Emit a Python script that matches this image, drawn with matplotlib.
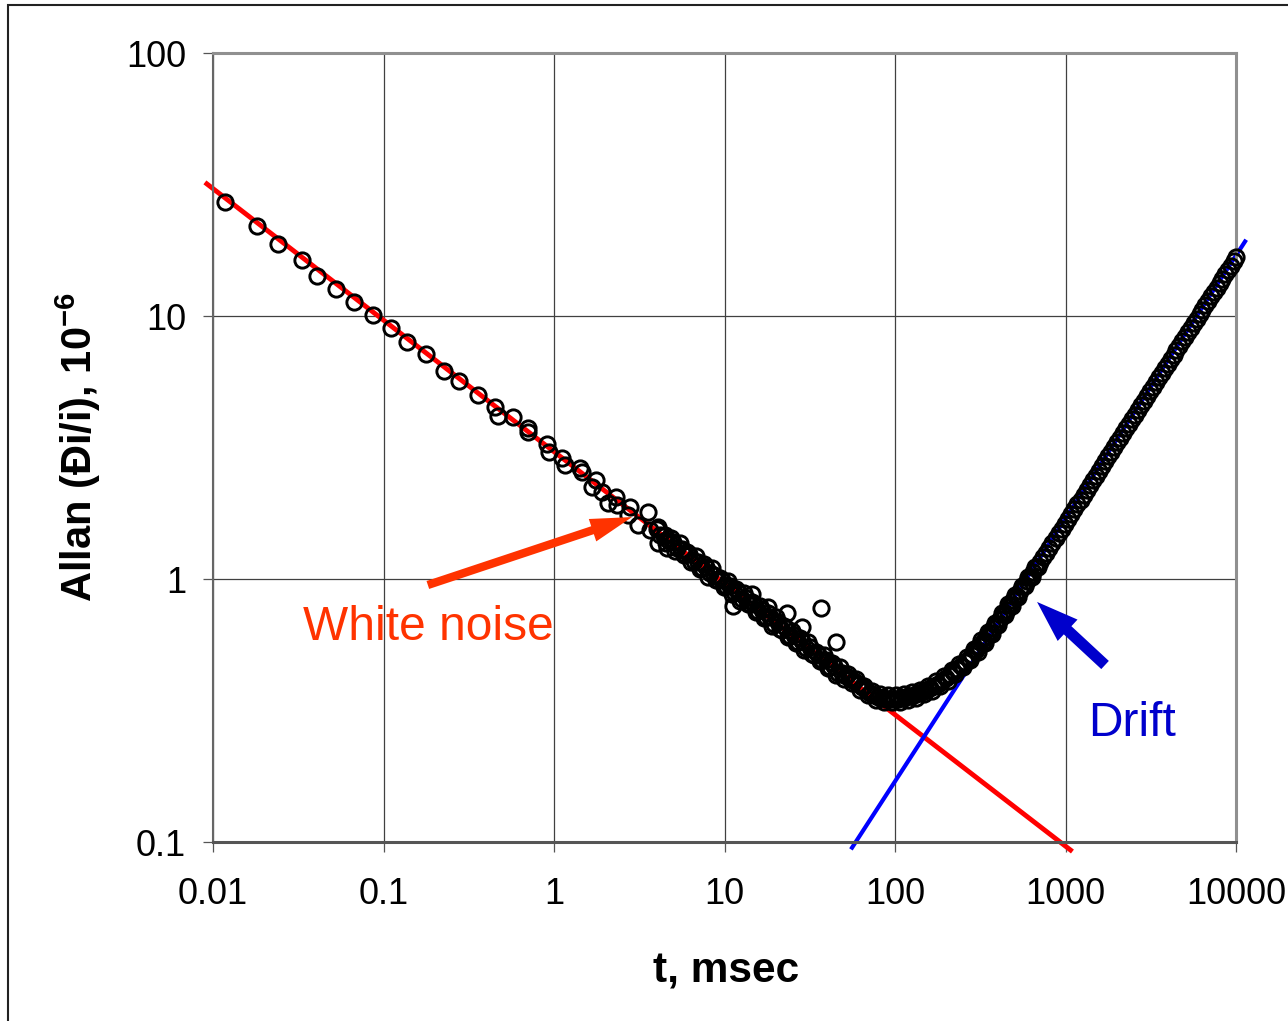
import numpy as np
import matplotlib
matplotlib.use("Agg")
import matplotlib.pyplot as plt
from matplotlib.patches import Rectangle
from matplotlib.ticker import FixedLocator, FixedFormatter, NullLocator

plt.rcParams['font.family'] = ['Liberation Sans', 'DejaVu Sans']
plt.rcParams['mathtext.fontset'] = 'custom'
plt.rcParams['mathtext.rm'] = 'Liberation Sans'
plt.rcParams['mathtext.bf'] = 'Liberation Sans:bold'

# sparse points at short averaging times (msec, 1e-6)
tau_sparse = [0.0118, 0.0181, 0.0241, 0.0333, 0.0407, 0.0527, 0.0671, 0.0868, 0.111,
              0.137, 0.178, 0.226, 0.277, 0.358, 0.451, 0.470, 0.575, 0.704, 0.704,
              0.909, 0.93, 1.114, 1.16, 1.42, 1.46, 1.76, 1.67, 1.91, 2.31, 2.07,
              2.34, 2.79, 2.72, 3.56, 3.11, 3.66, 4.48, 4.07, 4.6]
allan_sparse = [27.1, 22.0, 18.8, 16.3, 14.2, 12.7, 11.3, 10.1, 9.0,
                7.96, 7.17, 6.18, 5.66, 5.01, 4.51, 4.17, 4.13, 3.75, 3.62,
                3.26, 3.04, 2.88, 2.71, 2.64, 2.55, 2.38, 2.24, 2.14, 2.05, 1.95,
                1.91, 1.88, 1.75, 1.80, 1.60, 1.53, 1.47, 1.37, 1.31]

# dense points
tau_dense = [4.0, 4.2, 4.4, 4.7, 5.0, 5.3, 5.6, 5.9, 6.2, 6.6, 7.0, 7.4, 7.8, 8.2, 8.7,
             9.2, 9.7, 10.2, 10.8, 11.4, 12.0, 12.7, 13.4, 14.1, 14.9, 15.7, 16.6, 17.5,
             18.5, 19.5, 20.6, 21.7, 22.9, 24.2, 25.5, 27, 28.5, 30, 31.7, 33.5, 35.3,
             37.3, 39.4, 41.6, 43.9, 46.3, 48.9, 51.6, 54.5, 57.5, 60.7, 64, 67.6, 71.3,
             75.3, 79.5, 84, 88.6, 93.5, 98.7, 104, 110, 116, 122.5, 129, 136, 144, 152,
             160, 169, 178, 188, 198, 209, 220, 232, 244, 257, 270, 284, 298, 313, 328,
             344, 360, 377, 395, 413, 432, 452, 473, 495, 518, 542, 567, 593, 620, 648,
             677, 707, 738, 770, 803, 838, 874, 912, 951, 992, 1035, 1080, 1125, 1175,
             1225, 1280, 1335, 1390, 1450, 1510, 1575, 1640, 1710, 1780, 1855, 1930,
             2010, 2095, 2180, 2270, 2365, 2460, 2560, 2665, 2775, 2890, 3010, 3130,
             3260, 3390, 3530, 3670, 3820, 3975, 4135, 4300, 4475, 4655, 4840, 5035,
             5235, 5445, 5660, 5885, 6120, 6360, 6610, 6870, 7140, 7420, 7710, 8010,
             8320, 8640, 8975, 9320, 9680, 10050]
allan_dense = [1.55, 1.47, 1.46, 1.39, 1.38, 1.31, 1.30, 1.24, 1.24, 1.17, 1.16, 1.10, 1.11,
               1.05, 1.04, 0.99, 0.99, 0.94, 0.94, 0.89, 0.89, 0.84, 0.85, 0.80, 0.80,
               0.755, 0.76, 0.715, 0.72, 0.675, 0.685, 0.64, 0.65, 0.605, 0.615, 0.575,
               0.58, 0.545, 0.55, 0.515, 0.52, 0.49, 0.49, 0.462, 0.466, 0.44, 0.44, 0.428,
               0.42, 0.41, 0.398, 0.387, 0.377, 0.369, 0.362, 0.357, 0.354, 0.351, 0.35,
               0.35, 0.351, 0.353, 0.356, 0.359, 0.363, 0.367, 0.372, 0.378, 0.385, 0.392,
               0.40, 0.409, 0.419, 0.43, 0.442, 0.455, 0.468, 0.483, 0.498, 0.515, 0.535,
               0.556, 0.578, 0.60, 0.625, 0.65, 0.677, 0.705, 0.735, 0.765, 0.797, 0.83,
               0.865, 0.90, 0.94, 0.98, 1.02, 1.065, 1.11, 1.16, 1.21, 1.26, 1.315, 1.37,
               1.43, 1.49, 1.555, 1.62, 1.69, 1.765, 1.84, 1.92, 2.0, 2.09, 2.18, 2.27,
               2.37, 2.47, 2.57, 2.69, 2.81, 2.93, 3.05, 3.18, 3.31, 3.45, 3.59, 3.74,
               3.9, 4.06, 4.22, 4.4, 4.58, 4.77, 4.97, 5.17, 5.39, 5.6, 5.84, 6.07, 6.32,
               6.58, 6.84, 7.12, 7.41, 7.71, 8.02, 8.35, 8.68, 9.03, 9.39, 9.77, 10.16,
               10.56, 10.98, 11.42, 11.87, 12.34, 12.83, 13.33, 13.85, 14.39, 14.95,
               15.53, 16.14, 16.76]

# second interleaved set of dense points (noisier part of the curve)
tau_dense2 = [4.1, 4.55, 4.85, 5.15, 5.45, 5.75, 6.05, 6.4, 6.8, 7.2, 7.6, 8.0, 8.45, 8.95,
              9.45, 9.95, 10.5, 11.1, 11.7, 12.35, 13.05, 13.75, 14.5, 15.3, 16.15, 17.05,
              18.0, 19.0, 20.05, 21.15, 22.3, 23.55, 24.85, 26.25, 27.75, 29.25, 30.85,
              32.6, 34.4, 36.3, 38.35, 40.5, 42.75, 45.1, 47.6, 50.2, 53, 56, 59, 62.3,
              65.8, 69.4, 73.3, 77.4, 81.7, 86.3, 91, 96, 101.3, 107, 113, 119, 125.7,
              132.5, 140, 148, 156, 164.5, 173.5, 183, 193, 203.5, 214.5, 226, 238, 250.5,
              263.5, 277, 291, 305.5, 320.5, 336, 352, 368.5, 386, 404, 422.5, 442, 462.5,
              484, 506.5, 530, 554.5, 580, 606.5, 634, 662.5, 692]
allan_dense2 = [1.57, 1.37, 1.43, 1.28, 1.37, 1.23, 1.265, 1.16, 1.22, 1.09, 1.14, 1.02, 1.10,
                0.99, 1.01, 0.93, 0.98, 0.88, 0.92, 0.825, 0.886, 0.80, 0.817, 0.75, 0.79,
                0.71, 0.74, 0.665, 0.715, 0.643, 0.66, 0.603, 0.636, 0.571, 0.596, 0.536,
                0.576, 0.518, 0.53, 0.486, 0.512, 0.46, 0.48, 0.431, 0.464, 0.417, 0.437,
                0.403, 0.416, 0.380, 0.393, 0.362, 0.376, 0.348, 0.366, 0.341, 0.361, 0.340,
                0.361, 0.341, 0.365, 0.346, 0.372, 0.354, 0.380, 0.364, 0.392, 0.376, 0.408,
                0.392, 0.426, 0.411, 0.449, 0.435, 0.475, 0.461, 0.505, 0.491, 0.541, 0.529,
                0.584, 0.571, 0.630, 0.618, 0.683, 0.670, 0.742, 0.728, 0.804, 0.789, 0.873,
                0.856, 0.938, 0.941, 1.02, 1.02, 1.11, 1.11]

# scattered outliers
tau_out = [14.5, 11.2, 18.0, 23.3, 28.5, 36.8, 45.1]
allan_out = [0.877, 0.789, 0.783, 0.743, 0.657, 0.776, 0.576]

# fitted lines (end points)
white_tau = [0.0092, 1070]
white_allan = [31.8, 0.0932]
drift_tau = [56, 11300]
drift_allan = [0.0952, 19.2]

x_ticks = [0.01, 0.1, 1, 10, 100, 1000, 10000]
x_labels = ["0.01", "0.1", "1", "10", "100", "1000", "10000"]
y_ticks = [0.1, 1, 10, 100]
y_labels = ["0.1", "1", "10", "100"]

W, H = 1288, 1021
fig = plt.figure(figsize=(W / 100, H / 100), dpi=100)
ax = fig.add_axes([213 / W, 1 - 842 / H, (1236 - 213) / W, (842 - 53) / H])

ax.set_xscale('log')
ax.set_yscale('log')
ax.set_xlim(0.01, 10000)
ax.set_ylim(0.1, 100)

ax.plot(white_tau, white_allan, color='#ff0000', lw=3.5, clip_on=False, zorder=2)
ax.plot(drift_tau, drift_allan, color='#0000ff', lw=3.0, clip_on=False, zorder=2)

tau_all = tau_sparse + tau_dense + tau_dense2 + tau_out
allan_all = allan_sparse + allan_dense + allan_dense2 + allan_out
ax.plot(tau_all, allan_all, 'o', ms=11, mfc='none', mec='black', mew=2.1,
        clip_on=False, zorder=3)

ax.xaxis.set_major_locator(FixedLocator(x_ticks))
ax.xaxis.set_major_formatter(FixedFormatter(x_labels))
ax.yaxis.set_major_locator(FixedLocator(y_ticks))
ax.yaxis.set_major_formatter(FixedFormatter(y_labels))
ax.xaxis.set_minor_locator(NullLocator())
ax.yaxis.set_minor_locator(NullLocator())
ax.tick_params(axis='both', which='major', direction='out', length=7.5, width=0.9,
               color='#555555', labelsize=26)
ax.tick_params(axis='x', pad=18)
ax.tick_params(axis='y', pad=12)

ax.grid(True, which='major', color='#404040', lw=0.9)
ax.set_axisbelow(True)
ax.spines['left'].set_color('#666666')
ax.spines['left'].set_linewidth(1.5)
ax.spines['bottom'].set_color('#555555')
ax.spines['bottom'].set_linewidth(2.2)
for s in ['top', 'right']:
    ax.spines[s].set_color('#909090')
    ax.spines[s].set_linewidth(2.2)

# annotations
ax.annotate('', xy=(2.87, 1.72), xytext=(0.182, 0.949),
            arrowprops=dict(arrowstyle='simple,head_length=30,head_width=17,tail_width=6',
                            mutation_scale=1, color='#ff3300', lw=0, shrinkA=0, shrinkB=0))
ax.text(0.0337, 0.652, 'White noise', color='#ff3300', fontsize=34.5, ha='left', va='center')

ax.annotate('', xy=(681, 0.818), xytext=(1706, 0.471),
            arrowprops=dict(arrowstyle='simple,head_length=30,head_width=21,tail_width=8',
                            mutation_scale=1, color='#0000cc', lw=0, shrinkA=0, shrinkB=0))
ax.text(1355, 0.281, 'Drift', color='#0000cc', fontsize=34.5, ha='left', va='center')

fig.text(726 / W, 1 - 971 / H, 't, msec', fontsize=30.5, fontweight='bold',
         ha='center', va='center')
fig.text(78 / W, 1 - 447 / H, r'Allan (Ði/i), 10$^{\mathbf{-6}}$', fontsize=30,
         fontweight='bold', rotation=90, ha='center', va='center')

# outer chart border
fig.patches.append(Rectangle((8 / W, -0.05), 1.2, 1 - 5 / H + 0.05, transform=fig.transFigure,
                             fill=False, ec='#222222', lw=1.5, zorder=0))

fig.savefig('out.png', dpi=100)
